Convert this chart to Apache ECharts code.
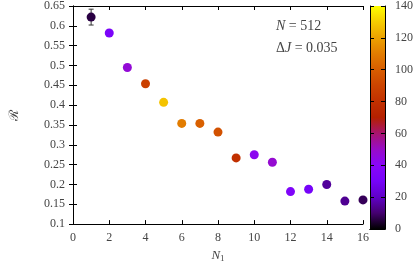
<!DOCTYPE html>
<html><head><meta charset="utf-8">
<script src="https://cdn.jsdelivr.net/npm/echarts@6/dist/echarts.min.js"></script>
<style>html,body{margin:0;padding:0;background:#fff}#c{width:416px;height:268px}</style>
</head><body><div id="c"></div>
<script>
var N1 = [1,2,3,4,5,6,7,8,9,10,11,12,13,14,15,16];
var R = [0.622,0.582,0.495,0.454,0.407,0.354,0.354,0.332,0.267,0.275,0.256,0.182,0.188,0.200,0.158,0.161];
var Rerr = [0.020,0.004,0.003,0.003,0.003,0.003,0.003,0.003,0.003,0.003,0.003,0.003,0.003,0.006,0.004,0.005];
var cbValue = [6,33,47,88,128,110,101,95,80,42,48,35,30,15,14,8];
var xTicks = [0,2,4,6,8,10,12,14,16];
var yTickLabels = ['0.1','0.15','0.2','0.25','0.3','0.35','0.4','0.45','0.5','0.55','0.6','0.65'];
var cbTicks = [0,20,40,60,80,100,120,140];
var palette = ['#000000','#44006f','#6001c7','#7603f9','#8806f9','#980cc7','#a7146f','#b42000','#c13000','#cc4400','#d85d00','#e27c00','#eca100','#f6cc00','#ffff00'];

var FONT = 'Liberation Serif, DejaVu Serif, serif';
var TXT = '#444';
var pts = N1.map(function(x,i){return [x, R[i], cbValue[i]];});
var errs = N1.map(function(x,i){return [x, R[i]-Rerr[i], R[i]+Rerr[i]];});

var stops = palette.map(function(c,i){return {offset:i/(palette.length-1), color:c};});

var chart = echarts.init(document.getElementById('c'), null, {renderer:'canvas'});
var axLine = {show:true, lineStyle:{color:'#000', width:1}};
var tickIn = {show:true, inside:true, length:4, lineStyle:{color:'#000'}};
chart.setOption({
  animation:false,
  grid:[
    {left:69, top:5, width:294, height:224, containLabel:false},
    {left:370, top:5, width:16, height:224, containLabel:false}
  ],
  xAxis:[
    {gridIndex:0, type:'value', min:0, max:16, interval:2, position:'bottom',
     axisLine:axLine, axisTick:tickIn, splitLine:{show:false},
     axisLabel:{color:TXT, fontFamily:FONT, fontSize:12, margin:8},
     name:'{i|N}{s|1}', nameLocation:'middle', nameGap:22,
     nameTextStyle:{rich:{i:{fontFamily:FONT, fontStyle:'italic', fontSize:13, color:TXT}, s:{fontFamily:FONT, fontSize:9, color:TXT, verticalAlign:'bottom', padding:[6,0,0,0]}}}},
    {gridIndex:0, type:'value', min:0, max:16, interval:2, position:'top',
     axisLine:axLine, axisTick:tickIn, axisLabel:{show:false}, splitLine:{show:false}},
    {gridIndex:1, type:'category', data:['c'], position:'bottom', z:10, axisLine:axLine, axisTick:{show:false}, axisLabel:{show:false}},
    {gridIndex:1, type:'category', data:['c'], position:'top', z:10, axisLine:axLine, axisTick:{show:false}, axisLabel:{show:false}}
  ],
  yAxis:[
    {gridIndex:0, type:'value', min:0.1, max:0.65, interval:0.05, position:'left',
     axisLine:axLine, axisTick:tickIn, splitLine:{show:false},
     axisLabel:{color:TXT, fontFamily:FONT, fontSize:12, margin:8,
       formatter:function(v){var k=Math.round((v-0.1)/0.05);return yTickLabels[k]||'';}},
     name:'\u211B', nameLocation:'middle', nameGap:52, nameRotate:90,
     nameTextStyle:{color:TXT, fontFamily:FONT, fontSize:13}},
    {gridIndex:0, type:'value', min:0.1, max:0.65, interval:0.05, position:'right',
     axisLine:axLine, axisTick:tickIn, axisLabel:{show:false}, splitLine:{show:false}},
    {gridIndex:1, type:'value', min:0, max:140, interval:20, position:'right', z:10,
     axisLine:axLine, axisTick:tickIn, splitLine:{show:false},
     axisLabel:{color:TXT, fontFamily:FONT, fontSize:12, margin:10}},
    {gridIndex:1, type:'value', min:0, max:140, interval:20, position:'left', z:10,
     axisLine:axLine, axisTick:tickIn, axisLabel:{show:false}, splitLine:{show:false}}
  ],
  visualMap:{show:false, type:'continuous', min:0, max:140, dimension:2, seriesIndex:1, inRange:{color:palette}},
  series:[
    {type:'custom', xAxisIndex:0, yAxisIndex:0, z:2, data:errs,
     renderItem:function(params, api){
       var x=api.value(0), lo=api.coord([x, api.value(1)]), hi=api.coord([x, api.value(2)]);
       var w=2.5, st={stroke:'#333', lineWidth:1};
       return {type:'group', children:[
         {type:'line', shape:{x1:lo[0],y1:lo[1],x2:hi[0],y2:hi[1]}, style:st},
         {type:'line', shape:{x1:lo[0]-w,y1:lo[1],x2:lo[0]+w,y2:lo[1]}, style:st},
         {type:'line', shape:{x1:hi[0]-w,y1:hi[1],x2:hi[0]+w,y2:hi[1]}, style:st}
       ]};
     }},
    {type:'scatter', xAxisIndex:0, yAxisIndex:0, z:3, symbol:'circle', symbolSize:9, itemStyle:{opacity:1}, data:pts},
    {type:'bar', xAxisIndex:2, yAxisIndex:2, z:1, barWidth:'100%', data:[cbTicks[cbTicks.length-1]],
     itemStyle:{color:new echarts.graphic.LinearGradient(0,1,0,0,stops)}, silent:true}
  ],
  graphic:[
    {type:'text', left:276, top:19, style:{rich:{i:{fontFamily:FONT,fontStyle:'italic',fontSize:14,fill:TXT}, n:{fontFamily:FONT,fontSize:14,fill:TXT}}, text:'{i|N}{n| = 512}'}},
    {type:'text', left:276, top:41, style:{rich:{i:{fontFamily:FONT,fontStyle:'italic',fontSize:14,fill:TXT}, n:{fontFamily:FONT,fontSize:14,fill:TXT}}, text:'{n|\u0394}{i|J}{n| = 0.035}'}}
  ]
});
</script></body></html>
